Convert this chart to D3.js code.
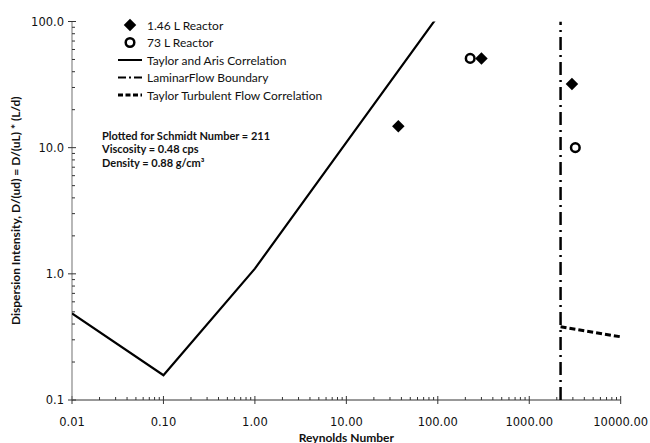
<!DOCTYPE html>
<html>
<head>
<meta charset="utf-8">
<script src="https://cdn.jsdelivr.net/npm/d3@7"></script>
<style>
  html, body { margin: 0; padding: 0; background: #fff; }
  svg { display: block; }
</style>
</head>
<body>
<svg id="chart" width="650" height="443"></svg>
<script>
// Measured dispersion intensity for the two reactors
const reactorSmall = [ // 1.46 L Reactor
  { re: 37, d: 14.8 },
  { re: 300, d: 51 },
  { re: 2930, d: 32 }
];
const reactorLarge = [ // 73 L Reactor
  { re: 226, d: 51 },
  { re: 3190, d: 10.0 }
];
// Taylor and Aris laminar correlation, Sc = 211
const taylorAris = [
  { re: 0.01, d: 0.485 },
  { re: 0.1, d: 0.157 },
  { re: 1, d: 1.10 },
  { re: 10, d: 11.0 },
  { re: 100, d: 110 }
];
// Laminar flow boundary
const laminarBoundary = [
  { re: 2200, d: 0.1 },
  { re: 2200, d: 100 }
];
// Taylor turbulent flow correlation
const taylorTurbulent = [
  { re: 2200, d: 0.38 },
  { re: 10000, d: 0.317 }
];
const xTicks = [0.01, 0.1, 1, 10, 100, 1000, 10000];
const xTickLabels = ["0.01", "0.10", "1.00", "10.00", "100.00", "1000.00", "10000.00"];
const yTicks = [0.1, 1, 10, 100];
const yTickLabels = ["0.1", "1.0", "10.0", "100.0"];
const legendItems = [
  { label: "1.46 L Reactor", kind: "diamond" },
  { label: "73 L Reactor", kind: "circle" },
  { label: "Taylor and Aris Correlation", kind: "solid" },
  { label: "LaminarFlow Boundary", kind: "dashdot" },
  { label: "Taylor Turbulent Flow Correlation", kind: "dashed" }
];
const notes = ["Plotted for Schmidt Number = 211", "Viscosity = 0.48 cps", "Density = 0.88 g/cm³"];

const svg = d3.select("#chart");
const plot = { left: 72, right: 620.7, top: 21.5, bottom: 400 };

const x = d3.scaleLog().domain([0.01, 10000]).range([plot.left, plot.right]);
const y = d3.scaleLog().domain([0.1, 100]).range([plot.bottom, plot.top]);

const labelFont = "'DejaVu Sans', Verdana, sans-serif";
const textFont = "Lato, 'Open Sans', sans-serif";

svg.append("defs").append("clipPath").attr("id", "plotClip")
  .append("rect")
  .attr("x", plot.left).attr("y", plot.top)
  .attr("width", plot.right - plot.left).attr("height", plot.bottom - plot.top);

// minor tick values (2..9 within each decade)
function minors(lo, hi) {
  const out = [];
  for (let p = Math.log10(lo); p < Math.log10(hi); p++) {
    for (let k = 2; k <= 9; k++) out.push(k * Math.pow(10, p));
  }
  return out;
}

// ---- X axis ----
const xAxisG = svg.append("g").attr("transform", `translate(0,${plot.bottom})`);
xAxisG.append("line").attr("x1", plot.left).attr("x2", plot.right)
  .attr("stroke", "#333").attr("stroke-width", 1);
xAxisG.selectAll(".xmin").data(minors(0.01, 10000)).join("line")
  .attr("x1", d => x(d)).attr("x2", d => x(d))
  .attr("y1", -3).attr("y2", 0)
  .attr("stroke", "#333").attr("stroke-width", 1);
xAxisG.selectAll(".xmaj").data(xTicks).join("line")
  .attr("x1", d => x(d)).attr("x2", d => x(d))
  .attr("y1", -4).attr("y2", 4)
  .attr("stroke", "#333").attr("stroke-width", 1);
xAxisG.selectAll(".xlab").data(xTicks).join("text")
  .attr("x", d => x(d)).attr("y", 25.5)
  .attr("text-anchor", "middle")
  .attr("font-family", labelFont).attr("font-size", 11.5)
  .attr("fill", "#111")
  .text((d, i) => xTickLabels[i]);

// ---- Y axis ----
const yAxisG = svg.append("g").attr("transform", `translate(${plot.left},0)`);
yAxisG.append("line").attr("y1", plot.top).attr("y2", plot.bottom)
  .attr("stroke", "#888").attr("stroke-width", 1.2);
yAxisG.selectAll(".ymin").data(minors(0.1, 100)).join("line")
  .attr("y1", d => y(d)).attr("y2", d => y(d))
  .attr("x1", 0).attr("x2", 3)
  .attr("stroke", "#333").attr("stroke-width", 1);
yAxisG.selectAll(".ymaj").data(yTicks).join("line")
  .attr("y1", d => y(d)).attr("y2", d => y(d))
  .attr("x1", -4).attr("x2", 4)
  .attr("stroke", "#333").attr("stroke-width", 1);
yAxisG.selectAll(".ylab").data(yTicks).join("text")
  .attr("x", -8).attr("y", d => y(d) + 4)
  .attr("text-anchor", "end")
  .attr("font-family", labelFont).attr("font-size", 11.5)
  .attr("fill", "#111")
  .text((d, i) => yTickLabels[i]);

// ---- Axis titles ----
svg.append("text")
  .attr("x", (plot.left + plot.right) / 2).attr("y", 441.5)
  .attr("text-anchor", "middle")
  .attr("font-family", textFont).attr("font-weight", "bold").attr("font-size", 12)
  .attr("fill", "#111")
  .text("Reynolds Number");
svg.append("text")
  .attr("transform", `translate(20,${(plot.top + plot.bottom) / 2}) rotate(-90)`)
  .attr("text-anchor", "middle")
  .attr("font-family", textFont).attr("font-weight", "bold").attr("font-size", 12)
  .attr("fill", "#111")
  .text("Dispersion Intensity, D/(ud) = D/(uL) * (L/d)");

// ---- Lines ----
const line = d3.line().x(d => x(d.re)).y(d => y(d.d));
const lines = svg.append("g").attr("clip-path", "url(#plotClip)");
lines.append("path").datum(taylorAris)
  .attr("d", line).attr("fill", "none")
  .attr("stroke", "#000").attr("stroke-width", 2.2)
  .attr("stroke-linejoin", "miter");
lines.append("path").datum(laminarBoundary)
  .attr("d", line).attr("fill", "none")
  .attr("stroke", "#000").attr("stroke-width", 2.5)
  .attr("stroke-dasharray", "13,5,2,5");
lines.append("path").datum(taylorTurbulent)
  .attr("d", line).attr("fill", "none")
  .attr("stroke", "#000").attr("stroke-width", 3)
  .attr("stroke-dasharray", "6,3");

// ---- Markers ----
const diamondPath = d3.symbol().type(d3.symbolSquare).size(78);
svg.append("g").selectAll("path").data(reactorSmall).join("path")
  .attr("d", diamondPath)
  .attr("transform", d => `translate(${x(d.re)},${y(d.d)}) rotate(45)`)
  .attr("fill", "#000");
svg.append("g").selectAll("circle").data(reactorLarge).join("circle")
  .attr("cx", d => x(d.re)).attr("cy", d => y(d.d))
  .attr("r", 4.3)
  .attr("fill", "#fff").attr("stroke", "#000").attr("stroke-width", 2.5);

// ---- Legend (upper left of the plot area) ----
const legend = svg.append("g").attr("transform", "translate(118,25)");
const rowH = 17.5;
const rows = legend.selectAll("g").data(legendItems).join("g")
  .attr("transform", (d, i) => `translate(0,${i * rowH})`);
rows.each(function (d) {
  const g = d3.select(this);
  if (d.kind === "diamond") {
    g.append("path").attr("d", diamondPath)
      .attr("transform", "translate(12,0) rotate(45)").attr("fill", "#000");
  } else if (d.kind === "circle") {
    g.append("circle").attr("cx", 12).attr("cy", 0).attr("r", 4.3)
      .attr("fill", "#fff").attr("stroke", "#000").attr("stroke-width", 2.5);
  } else {
    const ln = g.append("line").attr("x1", 0).attr("x2", 24).attr("y1", 0).attr("y2", 0)
      .attr("stroke", "#000");
    if (d.kind === "solid") ln.attr("stroke-width", 2);
    if (d.kind === "dashdot") ln.attr("stroke-width", 2).attr("stroke-dasharray", "8,3,2,3");
    if (d.kind === "dashed") ln.attr("stroke-width", 3).attr("stroke-dasharray", "5,2.5");
  }
  g.append("text").attr("x", 29).attr("y", 4.5)
    .attr("font-family", textFont).attr("font-size", 12).attr("fill", "#111")
    .text(d.label);
});

// ---- Notes ----
svg.append("g").selectAll("text").data(notes).join("text")
  .attr("x", 102).attr("y", (d, i) => 140 + i * 13.4)
  .attr("font-family", textFont).attr("font-weight", "bold").attr("font-size", 11)
  .attr("fill", "#111")
  .text(d => d);
</script>
</body>
</html>
